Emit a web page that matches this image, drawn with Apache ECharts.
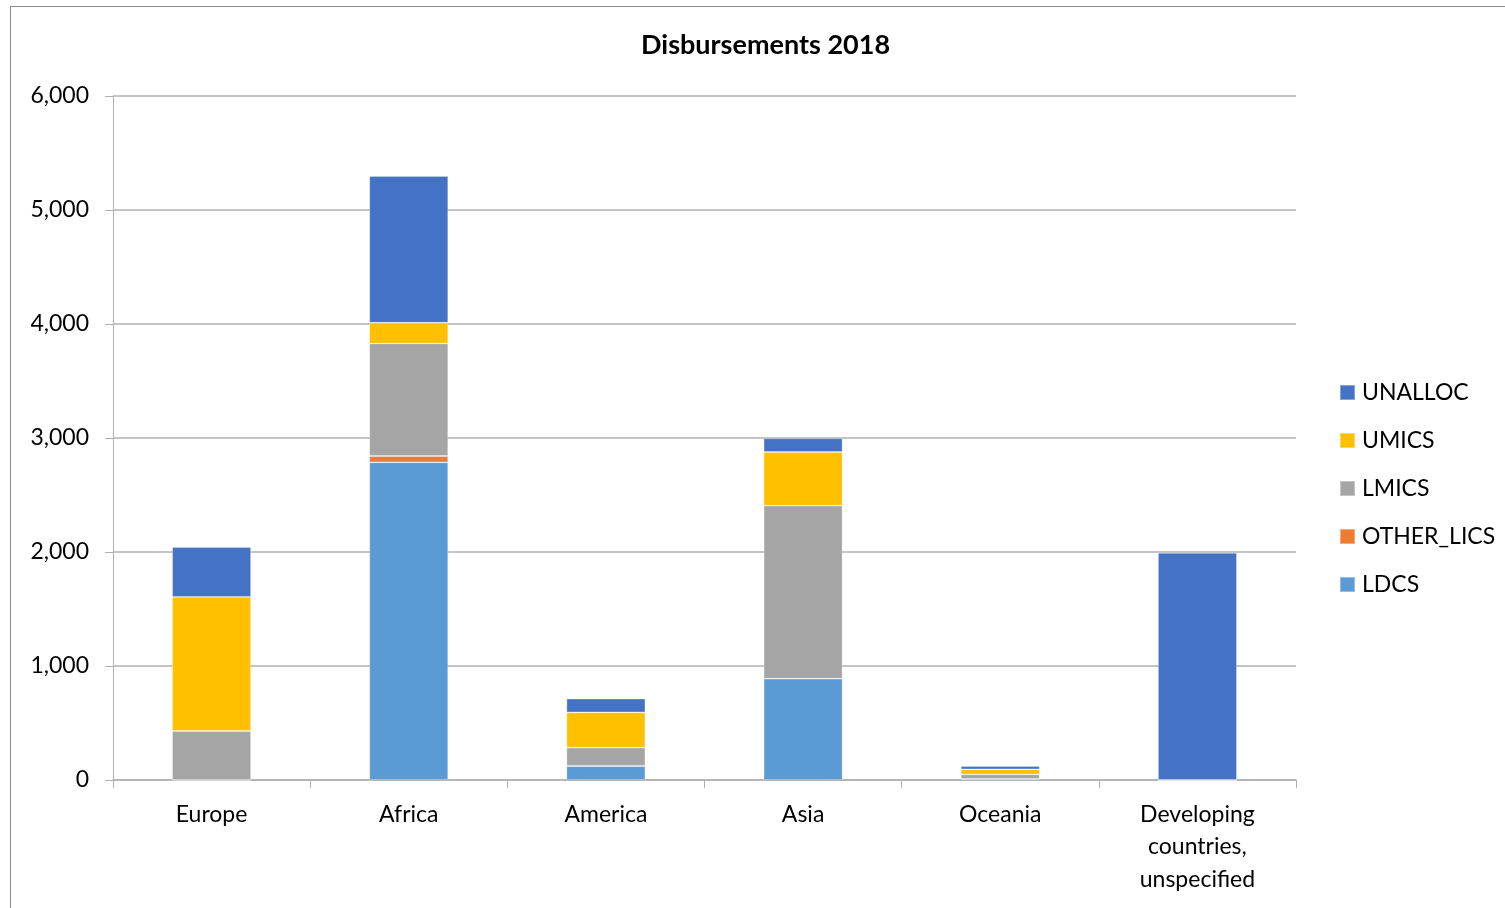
<!DOCTYPE html>
<html>
<head>
<meta charset="utf-8">
<title>Disbursements 2018</title>
<script src="https://cdn.jsdelivr.net/npm/echarts@6/dist/echarts.min.js"></script>
<style>
    html, body { margin: 0; padding: 0; background: #fff; overflow: hidden; }
    #frame { position: absolute; left: 10px; top: 6px; width: 1520px; height: 930px; border: 1px solid #8c8c8c; }
    #chart { position: absolute; left: 0; top: 0; width: 1505px; height: 908px; }
</style>
</head>
<body>
<div id="frame"></div>
<div id="chart"></div>
<script>
// categories (regions)
const regions = ['Europe', 'Africa', 'America', 'Asia', 'Oceania', 'Developing\ncountries,\nunspecified'];

// values per income group
const ldcs      = [0,    2787, 123, 889,  10, 0];
const otherLics = [0,    55,   0,   0,    0,  0];
const lmics     = [430,  988,  161, 1517, 40, 0];
const umics     = [1177, 181,  310, 471,  44, 0];
const unalloc   = [435,  1287, 119, 120,  29, 1993];

const seriesNames = ['LDCS', 'OTHER_LICS', 'LMICS', 'UMICS', 'UNALLOC'];
const seriesData = [ldcs, otherLics, lmics, umics, unalloc];
const colors = ['#5b9bd5', '#ed7d31', '#a5a5a5', '#ffc000', '#4472c4'];

// Lato is the closest installed face to Calibri
const font = 'Lato';

const chart = echarts.init(document.getElementById('chart'), null, { renderer: 'canvas' });

chart.setOption({
    animation: false,
    title: {
        text: 'Disbursements 2018',
        left: 636,
        top: 27,
        textStyle: { fontFamily: font, fontSize: 27, fontWeight: 'bold', color: '#000' }
    },
    legend: {
        // top item first, as in the picture
        data: ['UNALLOC', 'UMICS', 'LMICS', 'OTHER_LICS', 'LDCS'],
        orient: 'vertical',
        left: 1334,
        top: 376,
        itemWidth: 15,
        itemHeight: 15,
        itemGap: 25,
        icon: 'rect',
        textStyle: { fontFamily: font, fontSize: 23, color: '#000', padding: [0, 0, 0, 2] }
    },
    grid: { left: 113, top: 96, width: 1183, height: 684, containLabel: false },
    xAxis: {
        type: 'category',
        data: regions,
        axisLine: { lineStyle: { color: '#b0b0b0', width: 1.5 } },
        axisTick: { show: true, length: 8, alignWithLabel: false, lineStyle: { color: '#b0b0b0' } },
        axisLabel: { fontFamily: font, fontSize: 23, color: '#000', margin: 18, lineHeight: 32.5, interval: 0 }
    },
    yAxis: {
        type: 'value',
        min: 0,
        max: 6000,
        interval: 1000,
        axisLine: { show: true, lineStyle: { color: '#b0b0b0', width: 1 } },
        axisTick: { show: true, length: 8, lineStyle: { color: '#b0b0b0' } },
        axisLabel: {
            fontFamily: font, fontSize: 23, color: '#000', margin: 24,
            formatter: v => v.toLocaleString('en-US')
        },
        splitLine: { lineStyle: { color: '#b0b0b0', width: 1.5 } }
    },
    series: seriesNames.map((name, i) => ({
        name: name,
        type: 'bar',
        stack: 'total',
        barWidth: '40%',
        data: seriesData[i],
        itemStyle: { color: colors[i], borderColor: 'rgba(255,255,255,0.35)', borderWidth: 0.8 }
    }))
});
</script>
</body>
</html>
